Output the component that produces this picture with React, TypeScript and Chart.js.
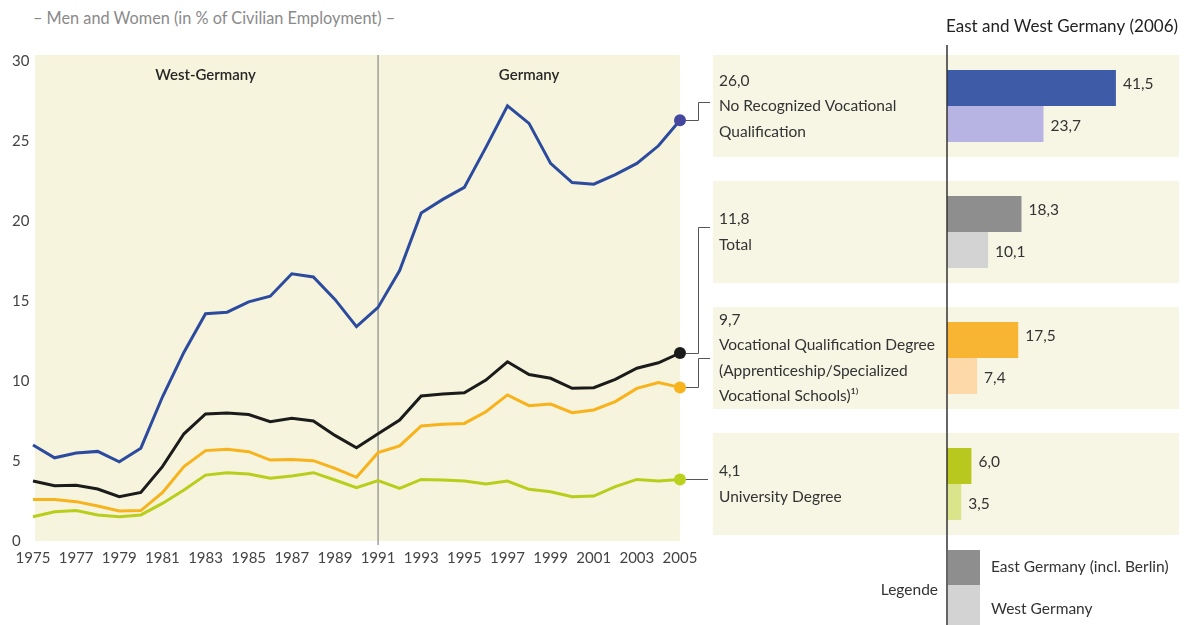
import React, { useEffect, useRef } from "react";
import { Chart, registerables } from "chart.js";

Chart.register(...registerables);

// ---------------- DATA ----------------
const years = [
  "1975", "1976", "1977", "1978", "1979", "1980", "1981", "1982", "1983", "1984",
  "1985", "1986", "1987", "1988", "1989", "1990", "1991", "1992", "1993", "1994",
  "1995", "1996", "1997", "1998", "1999", "2000", "2001", "2002", "2003", "2004", "2005",
];

const noQualification = [
  6.0, 5.2, 5.5, 5.6, 4.95, 5.8, 9.0, 11.8, 14.2, 14.3,
  14.95, 15.3, 16.7, 16.5, 15.1, 13.4, 14.6, 16.9, 20.5, 21.35,
  22.1, 24.6, 27.2, 26.1, 23.6, 22.4, 22.3, 22.9, 23.6, 24.7, 26.3,
];
const totalRate = [
  3.75, 3.46, 3.48, 3.25, 2.77, 3.04, 4.65, 6.7, 7.94, 8.0,
  7.9, 7.46, 7.67, 7.5, 6.6, 5.83, 6.7, 7.56, 9.06, 9.19,
  9.27, 10.06, 11.2, 10.4, 10.17, 9.54, 9.58, 10.1, 10.8, 11.14, 11.75,
];
const vocational = [
  2.6, 2.6, 2.46, 2.19, 1.88, 1.9, 3.02, 4.65, 5.65, 5.73,
  5.58, 5.06, 5.1, 5.02, 4.54, 3.98, 5.52, 5.94, 7.19, 7.29,
  7.35, 8.08, 9.13, 8.46, 8.56, 8.02, 8.19, 8.71, 9.54, 9.9, 9.6,
];
const university = [
  1.52, 1.83, 1.9, 1.63, 1.52, 1.63, 2.35, 3.19, 4.12, 4.27,
  4.19, 3.92, 4.06, 4.27, 3.81, 3.33, 3.77, 3.29, 3.85, 3.81,
  3.75, 3.56, 3.75, 3.23, 3.08, 2.77, 2.81, 3.4, 3.85, 3.75, 3.85,
];

const yTickValues = [0, 5, 10, 15, 20, 25, 30];
const periodLabels = ["West-Germany", "Germany"];
const periodCenterYears = ["1983", "1998"];
const reunificationYear = "1991";

const categories = [
  "No Recognized Vocational Qualification",
  "Total",
  "Vocational Qualification Degree (Apprenticeship/Specialized Vocational Schools)¹⁾",
  "University Degree",
];
const categoryLines = [
  ["No Recognized Vocational", "Qualification"],
  ["Total"],
  ["Vocational Qualification Degree", "(Apprenticeship/Specialized", "Vocational Schools)¹⁾"],
  ["University Degree"],
];
const values2005 = [26.0, 11.8, 9.7, 4.1];
const east2006 = [41.5, 18.3, 17.5, 6.0];
const west2006 = [23.7, 10.1, 7.4, 3.5];

const subtitle = "– Men and Women (in % of Civilian Employment) –";
const barTitle = "East and West Germany (2006)";
const legendTitle = "Legende";
const eastLabel = "East Germany (incl. Berlin)";
const westLabel = "West Germany";

// ---------------- STYLE ----------------
const FONT = "Lato, 'Open Sans', sans-serif";
const lineColors = ["#2C4B9E", "#1B1B1B", "#F8B21C", "#B8CE1B"];
const dotColors = ["#45479F", "#1B1B1B", "#F8B41E", "#BAD21E"];
const eastColors = ["#3E5BA8", "#8E8E8E", "#F8B534", "#B9C81E"];
const westColors = ["#B7B4E4", "#D3D3D3", "#FDD9A9", "#DAE48A"];
const plotBg = "#F6F4DC";
const bandBg = "#F7F6E4";
const textColor = "#333333";
const connectorTargetY = [102, 227, 358, null];

const fmt = (v: number) => v.toFixed(1).replace(".", ",");

export default function App() {
  const lineRef = useRef<HTMLCanvasElement>(null);
  const barRef = useRef<HTMLCanvasElement>(null);

  useEffect(() => {
    document.body.style.margin = "0";
    Chart.defaults.font.family = FONT;

    const series = [noQualification, totalRate, vocational, university];

    const linePlugin = {
      id: "lineDecor",
      beforeDatasetsDraw(chart: any) {
        const { ctx, chartArea, scales } = chart;
        ctx.save();
        ctx.fillStyle = plotBg;
        ctx.fillRect(chartArea.left + 2, chartArea.top - 6, chartArea.right - chartArea.left - 2, chartArea.bottom - chartArea.top + 6);
        const vx = scales.x.getPixelForValue(years.indexOf(reunificationYear));
        ctx.strokeStyle = "#8a8a8a";
        ctx.lineWidth = 1.2;
        ctx.beginPath();
        ctx.moveTo(vx, chartArea.top - 6);
        ctx.lineTo(vx, chartArea.bottom + 4);
        ctx.stroke();
        ctx.fillStyle = "#262626";
        ctx.font = `600 15px ${FONT}`;
        ctx.textAlign = "center";
        ctx.textBaseline = "middle";
        periodLabels.forEach((t, i) => {
          const px = scales.x.getPixelForValue(years.indexOf(periodCenterYears[i]));
          ctx.fillText(t, px, chartArea.top + 14);
        });
        ctx.restore();
      },
      afterDatasetsDraw(chart: any) {
        const { ctx, chartArea } = chart;
        ctx.save();
        ctx.strokeStyle = "#555";
        ctx.lineWidth = 1;
        chart.data.datasets.forEach((_: any, i: number) => {
          const meta = chart.getDatasetMeta(i);
          const pt = meta.data[meta.data.length - 1];
          const bx = chartArea.right + 18;
          const ex = chartArea.right + 30;
          ctx.beginPath();
          ctx.moveTo(pt.x + 6, Math.round(pt.y) + 0.5);
          const ty = connectorTargetY[i];
          if (ty === null) {
            ctx.lineTo(ex - 2, Math.round(pt.y) + 0.5);
          } else {
            ctx.lineTo(bx + 0.5, Math.round(pt.y) + 0.5);
            ctx.lineTo(bx + 0.5, ty + 0.5);
            ctx.lineTo(ex, ty + 0.5);
          }
          ctx.stroke();
        });
        ctx.restore();
      },
    };

    const lc = new Chart(lineRef.current!, {
      type: "line",
      data: {
        labels: years,
        datasets: series.map((d, i) => ({
          label: categories[i],
          data: d,
          borderColor: lineColors[i],
          borderWidth: 3,
          tension: 0,
          fill: false,
          pointRadius: d.map((_, j) => (j === d.length - 1 ? 6 : 0)),
          pointBackgroundColor: dotColors[i],
          pointBorderWidth: 0,
        })),
      },
      options: {
        responsive: false,
        animation: false,
        layout: { padding: { top: 61, right: 32, left: 12, bottom: 0 } },
        plugins: { legend: { display: false }, tooltip: { enabled: false } },
        scales: {
          x: {
            type: "category",
            grid: { display: false, drawTicks: false },
            border: { display: false },
            ticks: {
              autoSkip: false,
              maxRotation: 0,
              padding: 8,
              color: "#444",
              font: { size: 15 },
              callback: (_v: any, i: number) => (i % 2 === 0 ? years[i] : ""),
            },
            afterFit: (s: any) => { s.height = 39; },
          },
          y: {
            min: 0,
            max: 30,
            afterBuildTicks: (s: any) => { s.ticks = yTickValues.map((v) => ({ value: v })); },
            ticks: { crossAlign: "far", color: "#444", font: { size: 15 } },
            grid: { display: false, drawTicks: false },
            border: { display: false },
            afterFit: (s: any) => { s.width = 21; },
          },
        },
      } as any,
      plugins: [linePlugin],
    });

    const barPlugin = {
      id: "barDecor",
      beforeDatasetsDraw(chart: any) {
        const { ctx, chartArea, scales } = chart;
        ctx.save();
        categories.forEach((_, i) => {
          const yc = scales.y.getPixelForValue(i);
          ctx.fillStyle = bandBg;
          ctx.fillRect(13, yc - 51, chartArea.right - 13, 102);
          ctx.fillStyle = textColor;
          ctx.font = `15.5px ${FONT}`;
          ctx.textAlign = "left";
          ctx.textBaseline = "middle";
          const lines = [fmt(values2005[i]), ...categoryLines[i]];
          const lh = 25.5;
          lines.forEach((t, k) => {
            ctx.fillText(t, 19, yc + (k - (lines.length - 1) / 2) * lh);
          });
        });
        // title
        ctx.fillStyle = "#222";
        ctx.font = `17px ${FONT}`;
        ctx.textAlign = "left";
        ctx.textBaseline = "middle";
        ctx.fillText(barTitle, scales.x.getPixelForValue(0) - 1, 27);
        ctx.restore();
      },
      afterDatasetsDraw(chart: any) {
        const { ctx, scales } = chart;
        const ax = scales.x.getPixelForValue(0);
        ctx.save();
        // value labels
        ctx.fillStyle = textColor;
        ctx.font = `15.5px ${FONT}`;
        ctx.textAlign = "left";
        ctx.textBaseline = "middle";
        chart.data.datasets.forEach((ds: any, di: number) => {
          const meta = chart.getDatasetMeta(di);
          meta.data.forEach((el: any, j: number) => {
            ctx.fillText(fmt(ds.data[j]), el.x + 7, el.y + (di === 0 ? -4 : 2));
          });
        });
        // legend
        ctx.fillStyle = eastColors[1];
        ctx.fillRect(ax + 1, 550, 32, 35);
        ctx.fillStyle = westColors[1];
        ctx.fillRect(ax + 1, 585, 32, 40);
        ctx.fillStyle = textColor;
        ctx.fillText(eastLabel, ax + 44, 567);
        ctx.fillText(westLabel, ax + 44, 609);
        ctx.textAlign = "right";
        ctx.fillText(legendTitle, ax - 9, 590);
        // axis line
        ctx.strokeStyle = "#333";
        ctx.lineWidth = 1.5;
        ctx.beginPath();
        ctx.moveTo(ax, 45);
        ctx.lineTo(ax, chart.height);
        ctx.stroke();
        ctx.restore();
      },
    };

    const bc = new Chart(barRef.current!, {
      type: "bar",
      data: {
        labels: categories,
        datasets: [
          { label: eastLabel, data: east2006, backgroundColor: eastColors, categoryPercentage: 72 / 126, barPercentage: 1 },
          { label: westLabel, data: west2006, backgroundColor: westColors, categoryPercentage: 72 / 126, barPercentage: 1 },
        ],
      },
      options: {
        indexAxis: "y",
        responsive: false,
        animation: false,
        layout: { padding: { top: 43, bottom: 78, left: 247, right: 8 } },
        plugins: { legend: { display: false }, tooltip: { enabled: false } },
        scales: {
          x: { type: "linear", min: 0, max: 57, display: false },
          y: { type: "category", display: false },
        },
      } as any,
      plugins: [barPlugin],
    });

    return () => {
      lc.destroy();
      bc.destroy();
    };
  }, []);

  return (
    <div style={{ position: "relative", width: 1187, height: 625, background: "#fff", fontFamily: FONT, overflow: "hidden" }}>
      <div style={{ position: "absolute", left: 33, top: 8, fontSize: 16.3, color: "#8a8a8a", whiteSpace: "nowrap", lineHeight: "20px" }}>
        {subtitle}
      </div>
      <canvas ref={lineRef} width={712} height={580} style={{ position: "absolute", left: 0, top: 0 }} />
      <canvas ref={barRef} width={487} height={625} style={{ position: "absolute", left: 700, top: 0 }} />
    </div>
  );
}
